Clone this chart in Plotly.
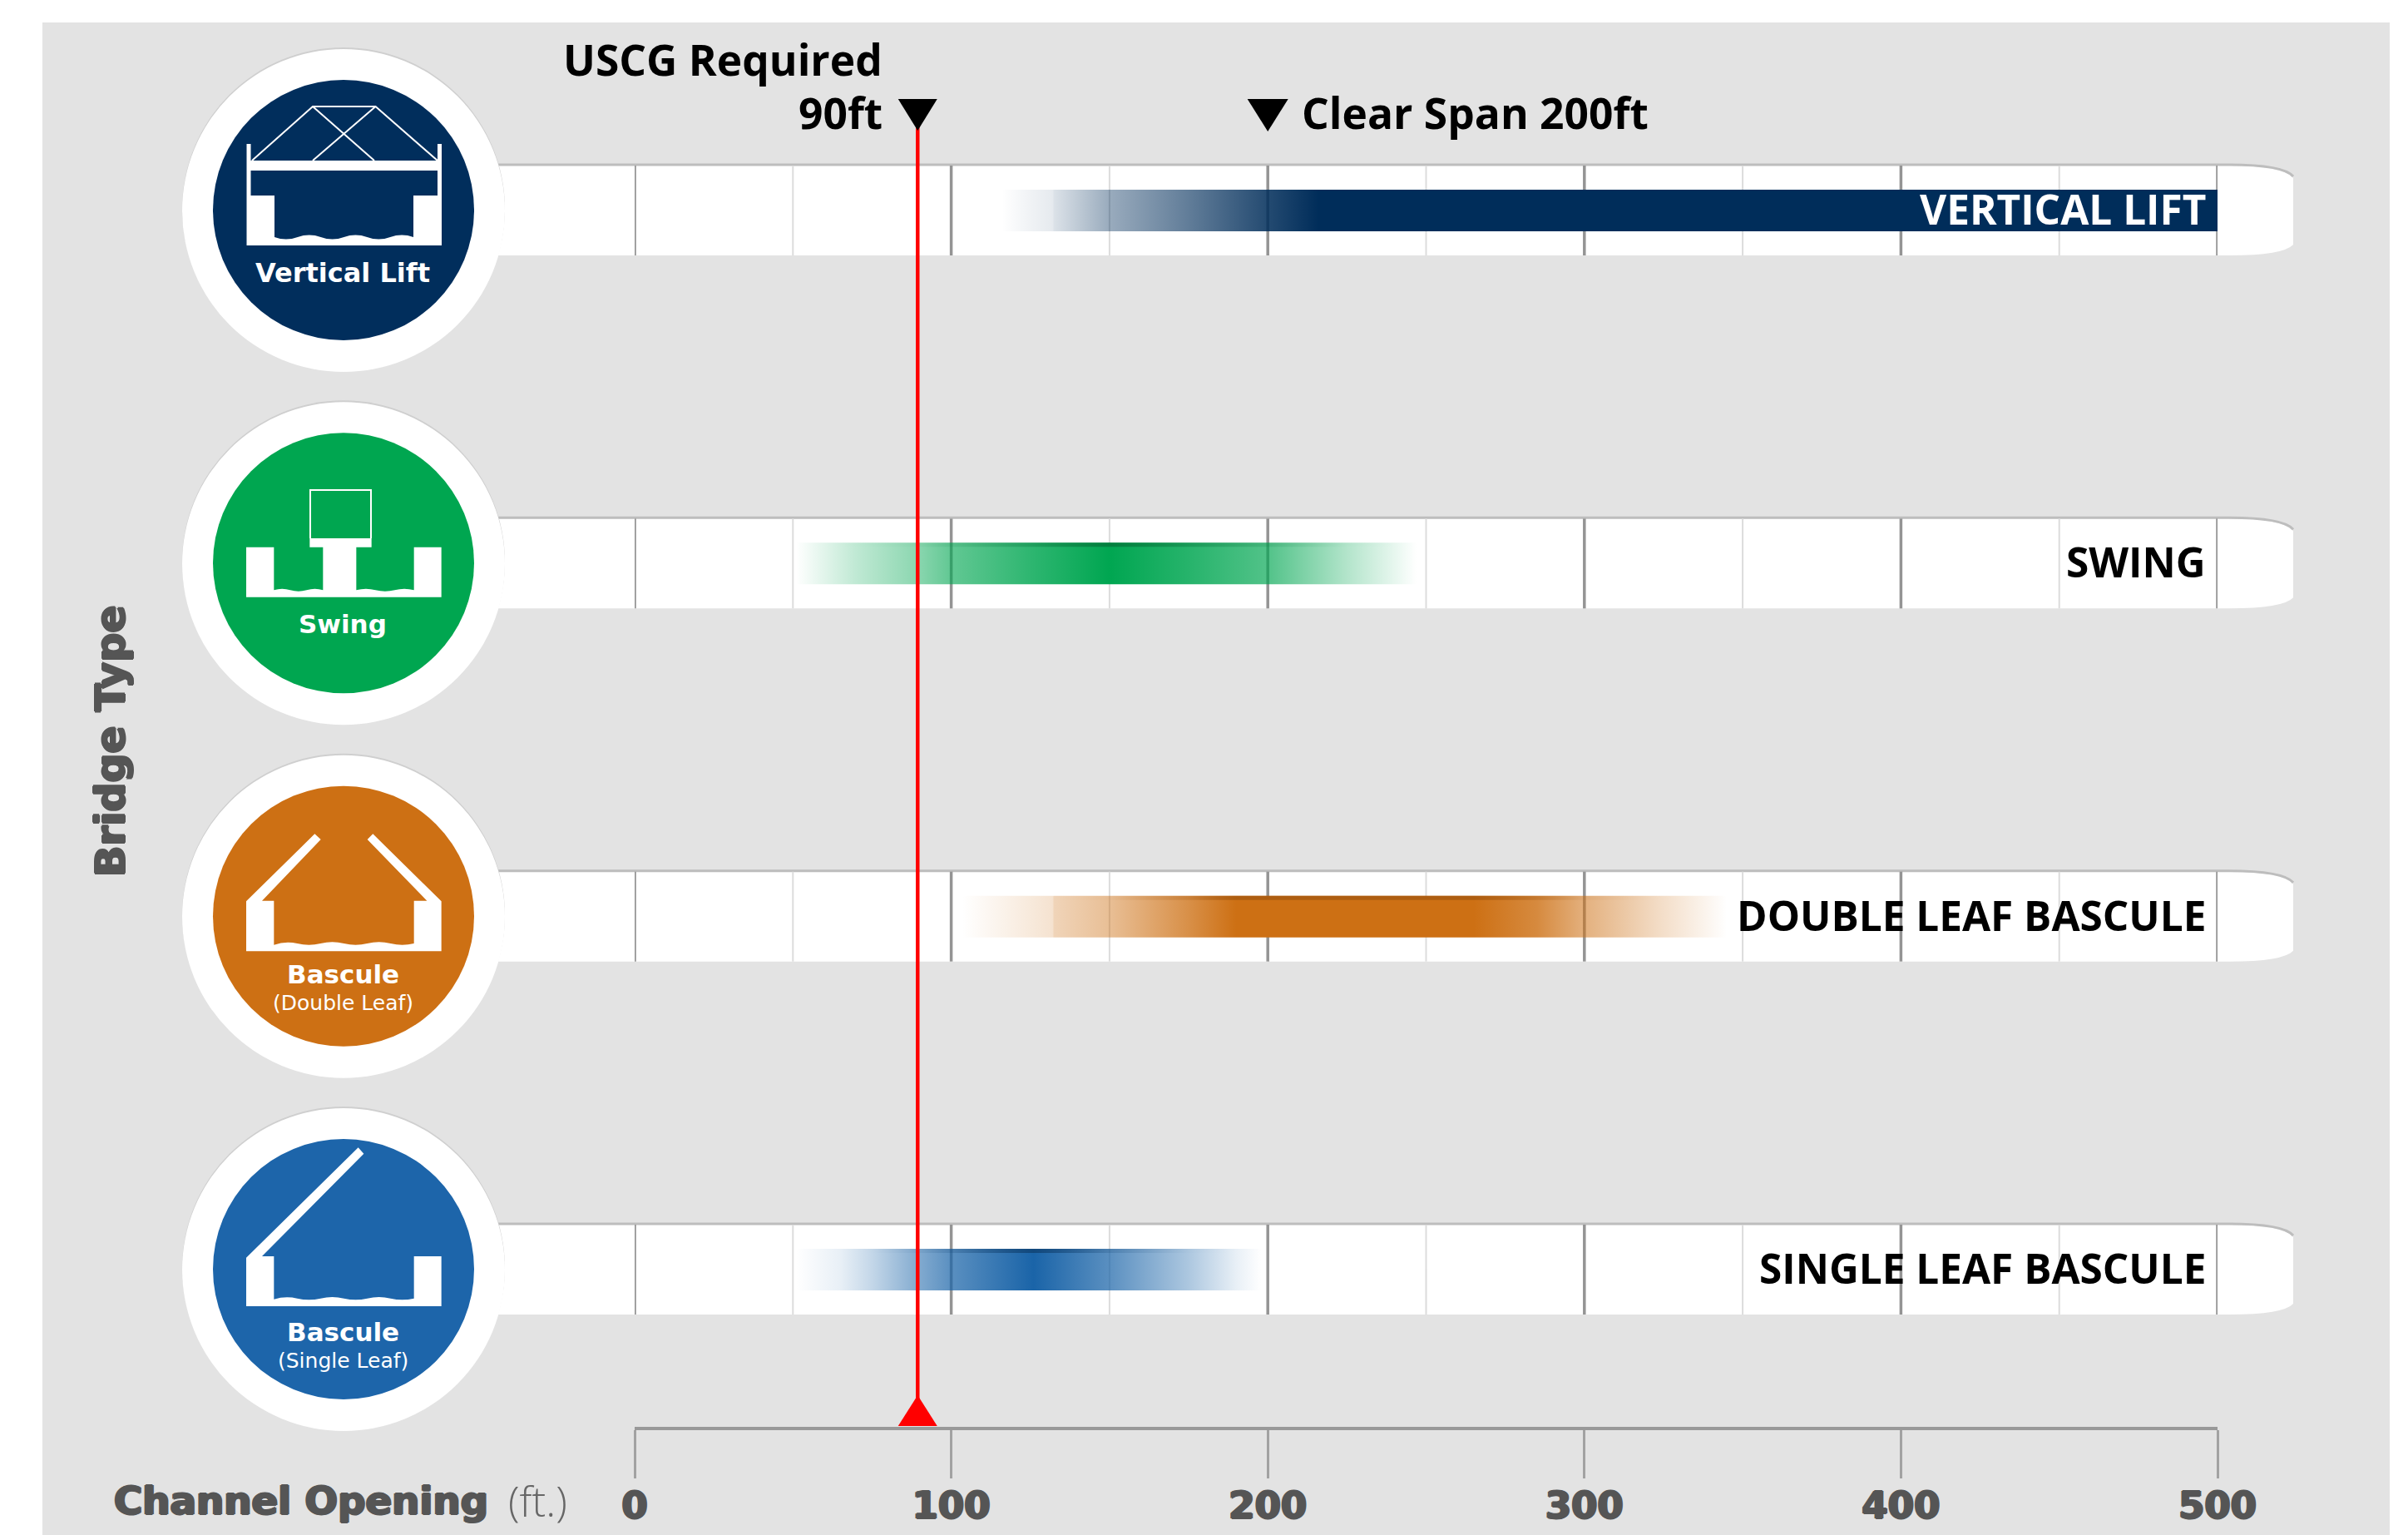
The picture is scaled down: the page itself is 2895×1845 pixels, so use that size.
import plotly.graph_objects as go

# ---------- data ----------
row_positions = [3, 2, 1, 0]
row_labels = ["VERTICAL LIFT", "SWING", "DOUBLE LEAF BASCULE", "SINGLE LEAF BASCULE"]
row_label_colors = ["#ffffff", "#000000", "#000000", "#000000"]
bar_colors = ["0,45,90", "0,166,81", "205,112,20", "26,100,168"]
edge_colors = ["0,45,90", "6,110,55", "160,85,15", "14,60,105"]

lift_x = [116, 125, 132, 132.5, 150, 175, 200, 216, 500]
lift_o = [0, 0.06, 0.1, 0.14, 0.4, 0.62, 0.86, 1, 1]
swing_x = [51, 70, 89, 100, 125, 150, 175, 200, 225, 247]
swing_o = [0, 0.25, 0.45, 0.62, 0.82, 1, 0.85, 0.68, 0.3, 0]
double_x = [103.5, 115, 132, 132.5, 150, 175, 190, 265, 285, 300, 323, 345]
double_o = [0, 0.08, 0.2, 0.3, 0.45, 0.78, 1, 1, 0.82, 0.55, 0.25, 0]
single_x = [51, 65, 75, 90, 100, 126, 150, 175, 190, 198]
single_o = [0, 0.1, 0.26, 0.55, 0.72, 1, 0.72, 0.36, 0.1, 0]
gradient_x = [lift_x, swing_x, double_x, single_x]
gradient_o = [lift_o, swing_o, double_o, single_o]

major_ticks = [0, 100, 200, 300, 400, 500]
minor_ticks = [50, 150, 250, 350, 450]
required_opening = 89.4       # position
clear_span = 200
required_title = "USCG Required"
required_value = "90ft"
clear_text = "Clear Span 200ft"

# ---------- page geometry ----------
W, H = 2895, 1845
X0, X500 = 763, 2666
AXIS_PX = 1714.5
ROW0_PX, ROW_STEP = 1526, 424.33
SANS = "Open Sans"
HEAVY = "DejaVu Sans"
GREY_TXT = "#555555"
FAT = "1.4px 0 0 #555555, -1.4px 0 0 #555555, 0 1px 0 #555555, 0 -1px 0 #555555"

def sx(px): return px / W
def sy(py): return 1 - py / H
def py2y(py): return (ROW0_PX - py) / ROW_STEP
def row_px(r): return ROW0_PX - r * ROW_STEP
def path_paper(cmds, ox=0, oy=0, k=1, zx=0, zy=0):
    out = []
    for c in cmds:
        vals = c[1:]
        conv = []
        for i in range(0, len(vals), 2):
            px = ox + (vals[i] - zx) * k
            py = oy + (vals[i + 1] - zy) * k
            conv += [f"{sx(px):.5f}", f"{sy(py):.5f}"]
        out.append(c[0] + " " + " ".join(conv))
    return " ".join(out)

def wave(x1, x2, y, n, amp):
    w = (x2 - x1) / n
    segs = []
    for i in range(n):
        a = x1 + i * w
        yc = y - amp if i % 2 == 0 else y + amp
        segs.append(("Q", a + w / 2, yc, a + w, y))
    return segs

shapes = []
annots = []

def poly(cmds, color="#ffffff", **kw):
    shapes.append(dict(type="path", xref="paper", yref="paper", path=cmds, fillcolor=color,
                       line=dict(width=0), layer="below", **kw))

def stroke(cmds, color="#ffffff", width=2):
    shapes.append(dict(type="path", xref="paper", yref="paper", path=cmds,
                       line=dict(color=color, width=width), layer="below"))

def text(px, py, s, size, color="#000000", anchor="center", family=SANS, weight=700, angle=0,
         shadow=None):
    f = dict(family=family, size=size, color=color, weight=weight)
    if shadow:
        f["shadow"] = shadow
    annots.append(dict(x=sx(px), y=sy(py), xref="paper", yref="paper", text=s, showarrow=False,
                       xanchor=anchor, yanchor="middle", font=f, textangle=angle,
                       borderpad=0, borderwidth=0, captureevents=False))

# background panel
shapes.append(dict(type="rect", xref="paper", yref="paper", x0=sx(51), x1=sx(2873), y0=sy(27), y1=sy(H),
                   fillcolor="#e3e3e3", line=dict(width=0), layer="below"))

# white rounded bands
for r in row_positions:
    c = row_px(r)
    t, b = c - 54, c + 54
    poly(path_paper([("M", 560, t), ("L", 2680, t), ("Q", 2745, t, 2757, t + 15), ("L", 2757, b - 13),
                      ("Q", 2745, b, 2680, b), ("L", 560, b), ("Z",)]))
    stroke(path_paper([("M", 560, t - 1), ("L", 2680, t - 1), ("Q", 2745, t - 1, 2757, t + 13)]),
           color="#bdbdbd", width=3)

# icons
CX = 413
icon_colors = ["#012e5c", "#00a650", "#cd7014", "#1d65aa"]
for r, col in zip(row_positions, icon_colors):
    cy = row_px(r)
    shapes.append(dict(type="circle", xref="paper", yref="paper", x0=sx(CX - 194), x1=sx(CX + 194),
                       y0=sy(cy - 196), y1=sy(cy + 192), fillcolor="#cfcfcf", line=dict(width=0), layer="below"))
    shapes.append(dict(type="circle", xref="paper", yref="paper", x0=sx(CX - 194), x1=sx(CX + 194),
                       y0=sy(cy - 194), y1=sy(cy + 194), fillcolor="#ffffff", line=dict(width=0), layer="below"))
    shapes.append(dict(type="circle", xref="paper", yref="paper", x0=sx(CX - 157), x1=sx(CX + 157),
                       y0=sy(cy - 157), y1=sy(cy + 156), fillcolor=col, line=dict(width=0), layer="below"))

# vertical lift pictogram (pixel offsets from circle centre)
cy = row_px(3)
lift = ([("M", -116.5, -80), ("L", -111.5, -80), ("L", -111.5, -60), ("L", 113, -60), ("L", 113, -80),
         ("L", 118, -80), ("L", 118, 42), ("L", -116.5, 42), ("Z",),
         ("M", -111.5, -48), ("L", 113, -48), ("L", 113, -18), ("L", 84, -18), ("L", 84, 32)]
        + wave(84, -83, 32, 6, 5)
        + [("L", -83, -18), ("L", -111.5, -18), ("Z",)])
poly(path_paper(lift, CX, cy), fillrule="evenodd")
stroke(path_paper([("M", -110, -60), ("L", -37, -125), ("L", 38.5, -125), ("L", 113, -60),
                   ("M", -37, -125), ("L", 37, -60), ("M", 38.5, -125), ("L", -37, -60)], CX, cy), width=2)

# swing pictogram (zoomed-crop units)
cy = row_px(2)
swing = ([("M", 288, 565), ("L", 388, 565), ("L", 388, 720)] + wave(388, 565, 720, 3, 9) +
         [("L", 565, 565), ("L", 517, 565), ("L", 517, 533), ("L", 740, 533), ("L", 740, 565), ("L", 685, 565),
          ("L", 685, 720)] + wave(685, 893, 720, 3, 9) +
         [("L", 893, 565), ("L", 992, 565), ("L", 992, 745), ("L", 288, 745), ("Z",)])
poly(path_paper(swing, CX, cy, 1 / 3, 639, 624))
stroke(path_paper([("M", 519, 533), ("L", 519, 359), ("L", 738, 359), ("L", 738, 533)], CX, cy, 1 / 3, 639, 624), width=2)

# double leaf pictogram
cy = row_px(1)
dbl = ([("M", 288, 548), ("L", 535, 305), ("L", 557, 325), ("L", 345, 546), ("L", 388, 546), ("L", 388, 705)]
       + wave(388, 893, 700, 6, 10) +
       [("L", 893, 546), ("L", 940, 546), ("L", 725, 325), ("L", 745, 305), ("L", 992, 548), ("L", 992, 728),
        ("L", 288, 728), ("Z",)])
poly(path_paper(dbl, CX, cy, 1 / 3, 639, 603))

# single leaf pictogram
cy = row_px(0)
sgl = ([("M", 288, 545), ("L", 692, 148), ("L", 712, 170), ("L", 345, 540), ("L", 388, 540), ("L", 388, 695)]
       + wave(388, 893, 692, 6, 10) +
       [("L", 893, 540), ("L", 992, 540), ("L", 992, 720), ("L", 288, 720), ("Z",)])
poly(path_paper(sgl, CX, cy, 1 / 3, 639, 588))

# icon captions
text(CX - 1, 328, "Vertical Lift", 32, "#ffffff", family=HEAVY, weight=700)
text(CX - 1, 750, "Swing", 31, "#ffffff", family=HEAVY, weight=700)
text(CX - 1, 1171, "Bascule", 31, "#ffffff", family=HEAVY, weight=700)
text(CX - 1, 1205, "(Double Leaf)", 25, "#ffffff", weight=400, family=HEAVY)
text(CX - 1, 1601, "Bascule", 31, "#ffffff", family=HEAVY, weight=700)
text(CX - 1, 1635, "(Single Leaf)", 25, "#ffffff", weight=400, family=HEAVY)

# header and axis captions
text(1061, 71, required_title, 51.5, anchor="right")
text(1061, 135, required_value, 51.5, anchor="right")
text(1565, 135, clear_text, 51.5, anchor="left")
text(133, 891, "Bridge Type", 49, GREY_TXT, family=HEAVY, angle=-90, shadow=FAT)
text(137, 1804, "Channel Opening", 46.7, GREY_TXT, anchor="left", family=HEAVY, shadow=FAT)
text(611, 1804, "(ft.)", 50, "#666666", anchor="left", weight=300)

# ---------- traces ----------
fig = go.Figure()

def grid_xy(ticks):
    xs, ys = [], []
    for r in row_positions:
        for t in ticks:
            xs += [t, t, None]
            ys += [r + 54 / ROW_STEP, r - 54 / ROW_STEP, None]
    return xs, ys

for ticks, col, w in [(minor_ticks, "#dcdcdc", 2), (major_ticks, "#949494", 3.5)]:
    xs, ys = grid_xy(ticks)
    fig.add_trace(go.Scatter(x=xs, y=ys, mode="lines", line=dict(color=col, width=w),
                             hoverinfo="skip", showlegend=False, cliponaxis=False))

half = 25 / ROW_STEP
for r, rgb, edge, gx, go_ in zip(row_positions, bar_colors, edge_colors, gradient_x, gradient_o):
    x0, x1 = gx[0], gx[-1]
    scale = [[(x - x0) / (x1 - x0), f"rgba({rgb},{o})"] for x, o in zip(gx, go_)]
    fig.add_trace(go.Scatter(x=[x0, x1, x1, x0, x0], y=[r - half, r - half, r + half, r + half, r - half],
                             mode="none", fill="toself", cliponaxis=False,
                             fillgradient=dict(type="horizontal", colorscale=scale, start=x0, stop=x1),
                             hoverinfo="skip", showlegend=False))
    if edge != rgb:
        e = 5 / ROW_STEP
        scale2 = [[s[0], f"rgba({edge},{o ** 4 * 0.7:.3f})"] for s, o in zip(scale, go_)]
        fig.add_trace(go.Scatter(x=[x0, x1, x1, x0, x0],
                                 y=[r + half - e, r + half - e, r + half, r + half, r + half - e],
                                 mode="none", fill="toself", cliponaxis=False,
                                 fillgradient=dict(type="horizontal", colorscale=scale2, start=x0, stop=x1),
                                 hoverinfo="skip", showlegend=False))

# required-opening line
fig.add_trace(go.Scatter(x=[required_opening, required_opening], y=[py2y(150), py2y(1700)], mode="lines",
                         line=dict(color="#ff0000", width=4.5), hoverinfo="skip", showlegend=False, cliponaxis=False))

# triangles: anchored on the data axis, sized in pixels
def tri(xv, py, col, w, h, up=False):
    sign = 1 if up else -1
    shapes.append(dict(type="path", xref="x", yref="y", xsizemode="pixel", ysizemode="pixel",
                       xanchor=xv, yanchor=py2y(py),
                       path=f"M {-w / 2} 0 L {w / 2} 0 L 0 {sign * h} Z",
                       fillcolor=col, line=dict(width=0), layer="above"))

tri(required_opening, 119, "#000000", 47, 38)
tri(clear_span, 119, "#000000", 49, 39)
tri(required_opening, 1714, "#ff0000", 47, 37, up=True)

for r, lab, col in zip(row_positions, row_labels, row_label_colors):
    annots.append(dict(x=500, y=r, xref="x", yref="y", text=lab, showarrow=False, xanchor="right",
                       yanchor="middle", xshift=-12, yshift=2,
                       font=dict(family=SANS, size=49.5, color=col, weight=700)))

fig.update_layout(
    template="none",
    width=W, height=H, autosize=False,
    margin=dict(l=0, r=0, t=0, b=0, pad=0, autoexpand=False),
    paper_bgcolor="#ffffff", plot_bgcolor="rgba(0,0,0,0)",
    showlegend=False, shapes=shapes, annotations=annots,
    xaxis=dict(domain=[X0 / W, X500 / W], range=[0, 500], tickvals=major_ticks, automargin=False,
               ticktext=[str(t) for t in major_ticks], ticks="outside", ticklen=58, tickwidth=3,
               tickcolor="#a2a2a2", showline=True, linecolor="#999999", linewidth=4, showgrid=False,
               zeroline=False, ticklabelstandoff=-6,
               tickfont=dict(family=HEAVY, size=45, color=GREY_TXT, weight=700, shadow=FAT)),
    yaxis=dict(domain=[(H - AXIS_PX) / H, 1], range=[py2y(AXIS_PX), py2y(0)], visible=False,
               showgrid=False, zeroline=False, automargin=False),
)

fig.write_html("out.html", post_script="document.body.style.margin='0';", config=dict(displayModeBar=False))
